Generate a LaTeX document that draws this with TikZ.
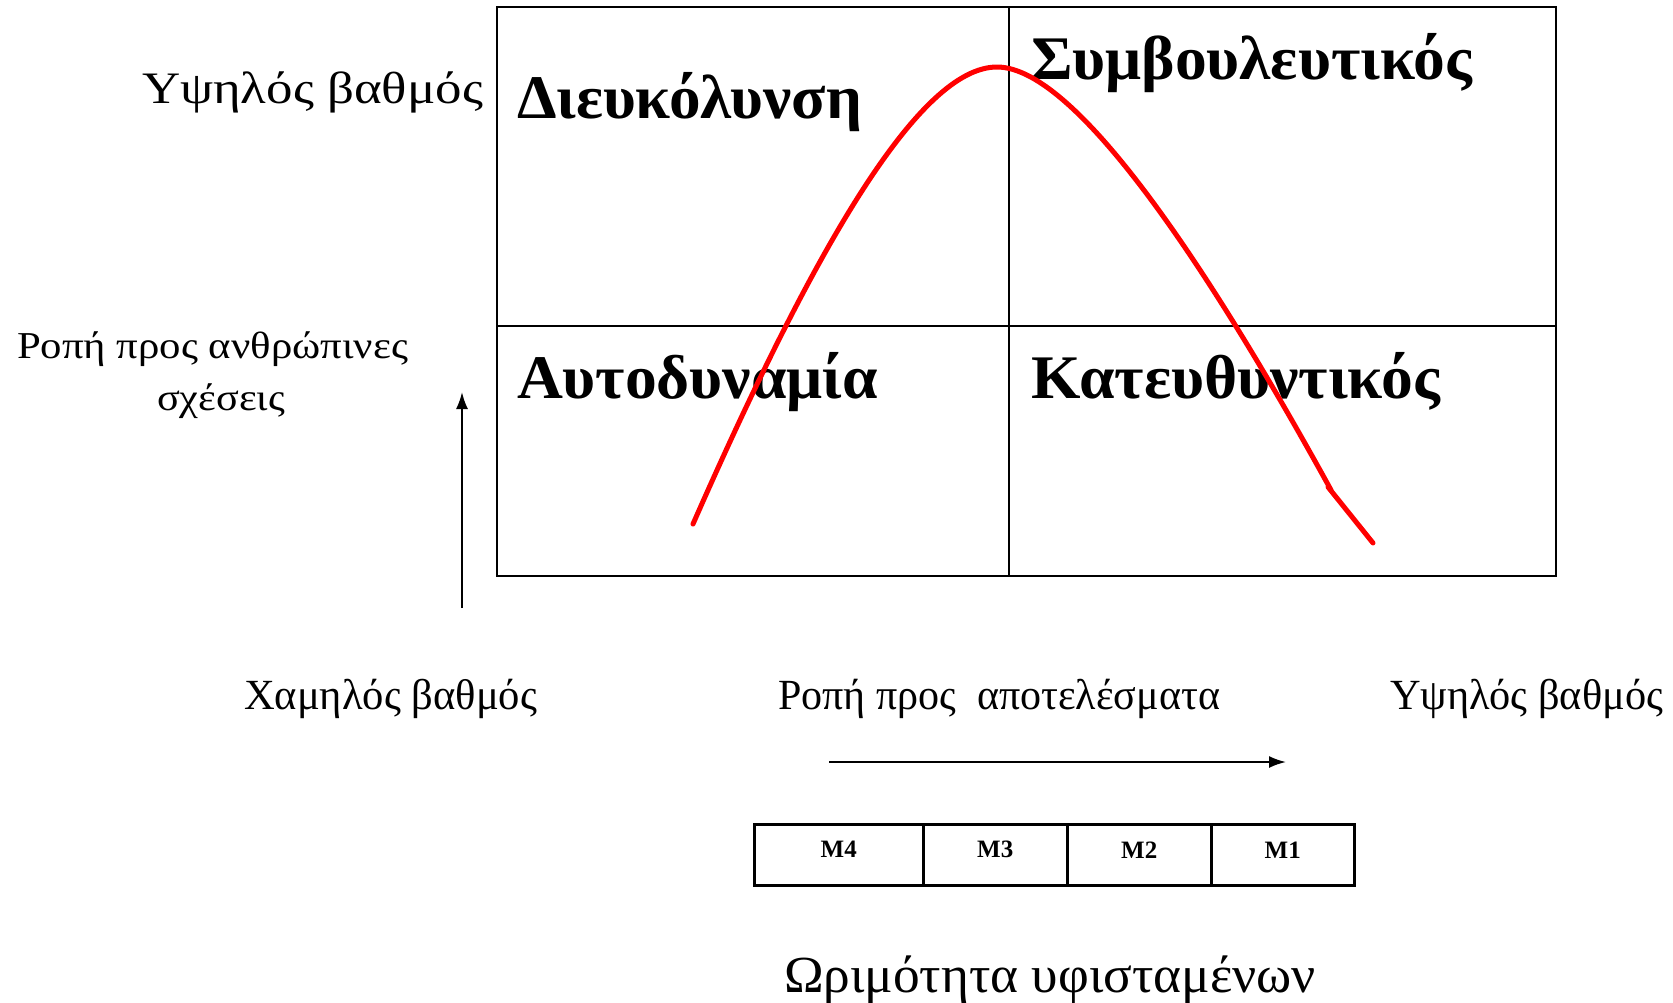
\documentclass[tikz,border=0pt]{standalone}
\usepackage{fontspec}
\usepackage{graphicx}
\setmainfont{Liberation Serif}
\usetikzlibrary{arrows.meta}
\newcommand{\mylbl}[3]{\resizebox{#1pt}{\height}{\fontsize{#2}{#2}\selectfont #3}}
\newcommand{\mybold}[3]{\resizebox{#1pt}{\height}{\fontsize{#2}{#2}\selectfont\bfseries #3}}
\tikzset{
  txt/.style={inner sep=0pt, outer sep=0pt, anchor=base west},
  frame/.style={line width=2.5pt, black},
  axis/.style={line width=2pt, black, -{Latex[length=17pt,width=12pt]}},
  curve/.style={red, line width=5pt, line cap=round, line join=round},
  cell/.style={draw, line width=2.5pt, minimum height=61pt, inner sep=0pt, anchor=north west},
  mlabel/.style={inner sep=0pt, font=\fontsize{25}{25}\selectfont\bfseries}
}
\begin{document}
\begin{tikzpicture}[x=1pt,y=-1pt]
\useasboundingbox (0,0) rectangle (1673,1002);
\fill[white] (0,0) rectangle (1673,1002);
% main grid
\draw[frame] (497,7) rectangle (1556,576);
\draw[frame] (1009,7) -- (1009,576);
\draw[frame] (497,326) -- (1556,326);
% quadrant labels
\node[txt] (dieu) at (517,118) {\mybold{345}{62}{Διευκόλυνση}};
\node[txt] (symv) at (1031,79) {\mybold{441}{62}{Συμβουλευτικός}};
\node[txt] (auto) at (517,398) {\mybold{361}{62}{Αυτοδυναμία}};
\node[txt] (kate) at (1031,398) {\mybold{409}{62}{Κατευθυντικός}};
% side texts
\node[txt] (hightl) at (142,103) {\mylbl{341}{45}{Υψηλός βαθμός}};
\node[txt] (ropi1) at (17,358) {\mylbl{391}{38}{Ροπή προς ανθρώπινες}};
\node[txt] (ropi2) at (157,410) {\mylbl{128}{38}{σχέσεις}};
\node[txt] (low) at (244,709) {\mylbl{293}{43}{Χαμηλός βαθμός}};
\node[txt] (ropa) at (778,709) {\mylbl{442}{43}{Ροπή προς\ \ αποτελέσματα}};
\node[txt] (highbr) at (1390,709) {\mylbl{273}{43}{Υψηλός βαθμός}};
\node[txt] (orim) at (784,992) {\mylbl{532}{52}{Ωριμότητα υφισταμένων}};
% axis arrows
\coordinate (va) at (462,608);
\coordinate (vb) at (462,392);
\coordinate (ha) at (829,762);
\coordinate (hb) at (1286,762);
\draw[axis] (va) -- (vb);
\draw[axis] (ha) -- (hb);
% maturity scale
\node[cell, minimum width=169pt] (m4) at (753,823) {};
\node[cell, minimum width=144pt] (m3) at (922,823) {};
\node[cell, minimum width=144pt] (m2) at (1066,823) {};
\node[cell, minimum width=143pt] (m1) at (1210,823) {};
\node[mlabel] (l4) at ([yshift=5pt]m4.center) {M4};
\node[mlabel] (l3) at ([yshift=5pt]m3.center) {M3};
\node[mlabel] (l2) at ([yshift=5pt]m2.center) {M2};
\node[mlabel] (l1) at ([yshift=5pt]m1.center) {M1};
% red curve
\draw[curve] (693,524) .. controls (816,244) and (920,67) .. (997,67)
                       .. controls (1080,67) and (1221,290) .. (1331,490);
\draw[curve] (1328,487) -- (1373,543);
\end{tikzpicture}
\end{document}
